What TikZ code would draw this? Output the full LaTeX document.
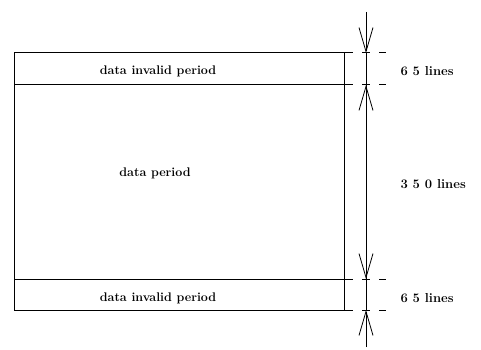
\documentclass[tikz,border=0pt]{standalone}
\usetikzlibrary{arrows.meta}
\begin{document}
\begin{tikzpicture}[x=1pt, y=-1pt, line width=1pt, font=\fontsize{12.5}{14}\selectfont\bfseries,
    barb/.style={-{Straight Barb[length=24pt, width=14pt, line width=0.8pt]}},
    dimtext/.style={anchor=west, inner sep=0pt, font=\fontsize{13}{15}\selectfont\bfseries}]
    \useasboundingbox (0,0) rectangle (481,350);
    \def\xl{14}
    \def\xr{344}
    \def\xe{353}
    \def\xd{366}
    \draw (\xl,53) -- (\xl,310);
    \draw (\xr,53) -- (\xr,310);
    \foreach \y in {53,85,279,310}
    {
        \draw (\xl,\y) -- (\xe,\y);
        \draw (\xd-4,\y) -- (\xd+4,\y);
        \draw (379,\y) -- (386,\y);
    }
    \coordinate (top) at (\xd,12);
    \coordinate (d1) at (\xd,53);
    \coordinate (d2) at (\xd,85);
    \coordinate (d3) at (\xd,279);
    \coordinate (d4) at (\xd,310);
    \coordinate (bot) at (\xd,347);

    \draw[barb] (top) -- (d1);
    \draw (d1) -- (d2);
    \draw[barb] (d3) -- (d2);
    \draw[barb] (d2) -- (d3);
    \draw (d3) -- (d4);
    \draw[barb] (bot) -- (d4);

    \node(inv1) at (158,71) {data invalid period};
    \node(data) at (155,173) {data period};
    \node(inv2) at (158,298) {data invalid period};
    \node(n1) [dimtext] at (400,71) {6 5 lines};
    \node(n2) [dimtext] at (400,184) {3 5 0 lines};
    \node(n3) [dimtext] at (400,298) {6 5 lines};
\end{tikzpicture}
\end{document}
